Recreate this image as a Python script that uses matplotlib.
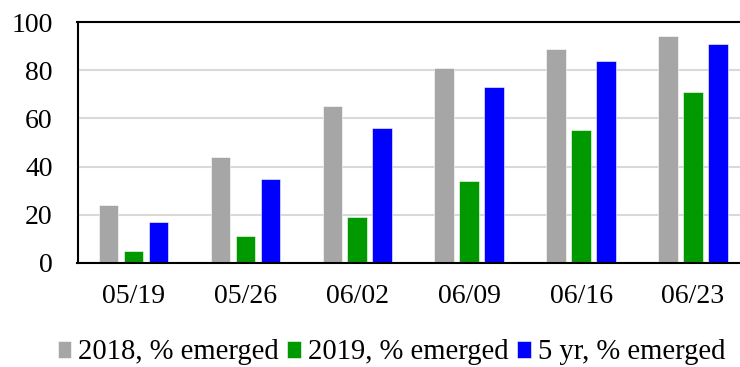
import numpy as np
import matplotlib.pyplot as plt

# Weekly emergence, percent
weeks = ["05/19", "05/26", "06/02", "06/09", "06/16", "06/23"]
emerged_2018 = [24, 44, 65, 81, 89, 94]
emerged_2019 = [5, 11, 19, 34, 55, 71]
emerged_5yr = [17, 35, 56, 73, 84, 91]

series = [
    ("2018, % emerged", emerged_2018, "#a6a6a6"),
    ("2019, % emerged", emerged_2019, "#009900"),
    ("5 yr, % emerged", emerged_5yr, "#0000ff"),
]

plt.rcParams["font.family"] = ["Liberation Serif", "DejaVu Serif"]

fig = plt.figure(figsize=(7.4, 3.67), dpi=100)
# axes runs a little past the right edge of the figure
ax = fig.add_axes([77.5 / 740, 104 / 367, (749 - 77.5) / 740, 241 / 367])

x = np.arange(len(weeks))
width = 0.175
step = 0.223
for i, (label, vals, color) in enumerate(series):
    ax.bar(x + (i - 1) * step, vals, width, color=color, label=label,
           edgecolor="white", linewidth=0.4, zorder=2)

ax.set_xlim(-0.5, len(weeks) - 0.5)
ax.set_ylim(0, 100)
ax.set_yticks([0, 20, 40, 60, 80, 100])
ax.set_xticks(x)
ax.set_xticklabels(weeks)
ax.yaxis.grid(True, color="#d9d9d9", linewidth=1.5, zorder=0)
ax.tick_params(axis="both", length=0, labelsize=20)
ax.tick_params(axis="y", pad=18)
ax.tick_params(axis="x", pad=15)
for side in ["left", "bottom", "top", "right"]:
    ax.spines[side].set_color("black")
    ax.spines[side].set_linewidth(1.5)

fig.legend(loc="center", bbox_to_anchor=(0.529, 0.04), ncol=3, frameon=False,
           fontsize=20.6, handlelength=0.47, handleheight=0.54,
           handletextpad=0.25, columnspacing=0.3, borderaxespad=0)

plt.savefig("out.png", dpi=100)
